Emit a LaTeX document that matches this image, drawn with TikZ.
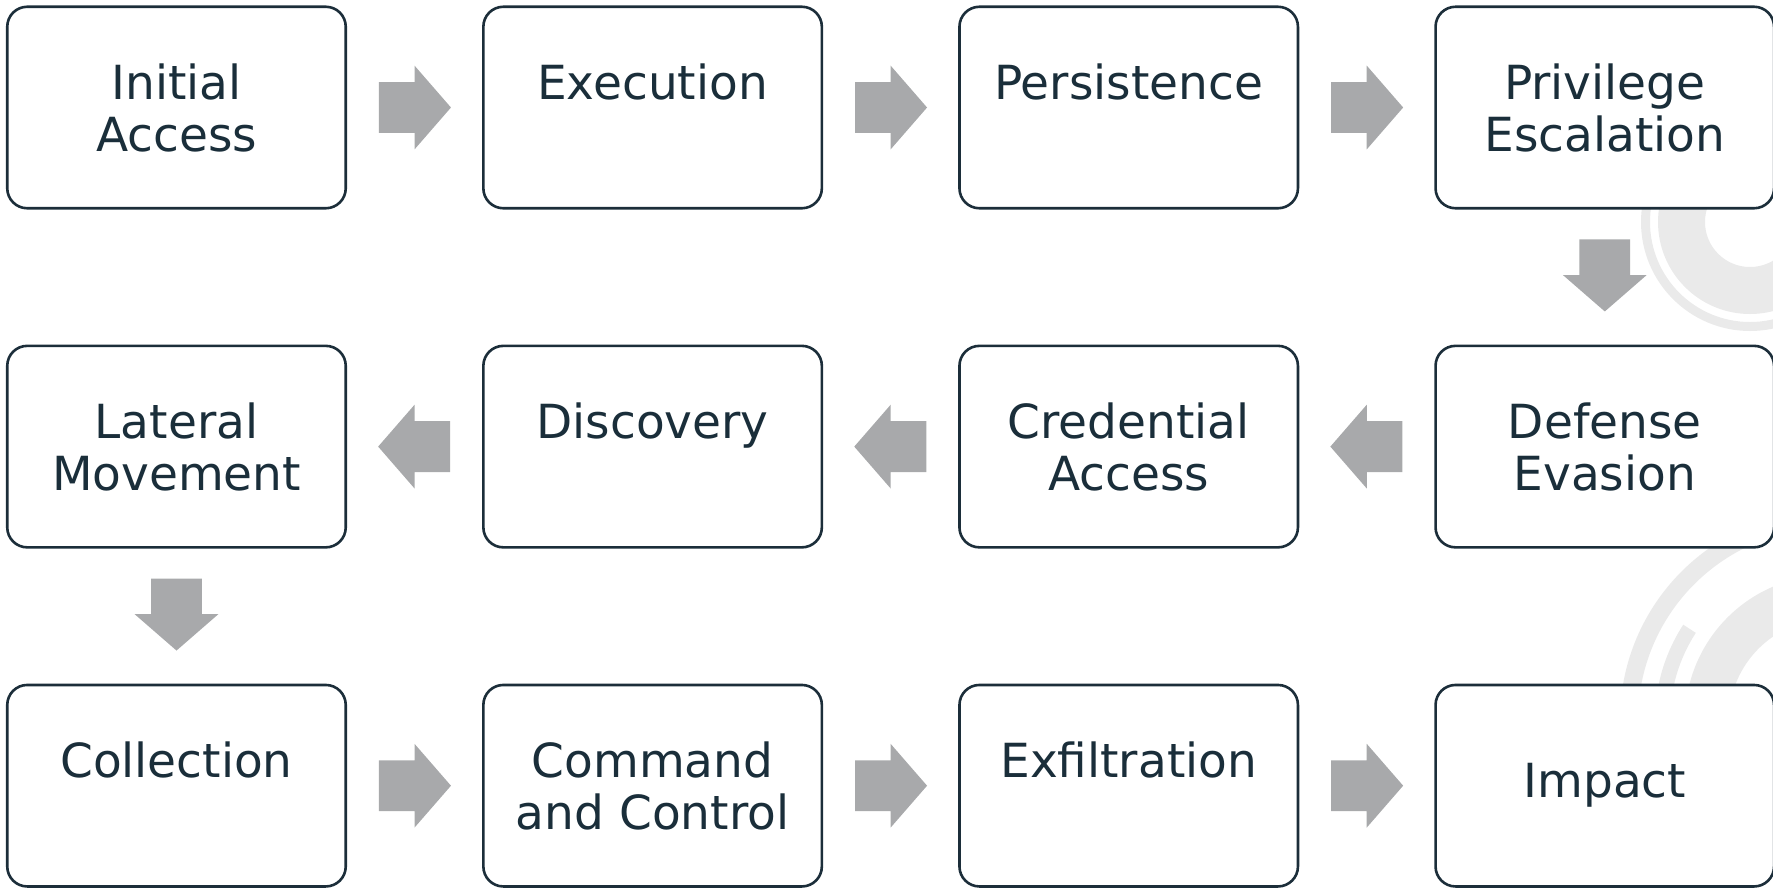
\documentclass[tikz,border=0pt]{standalone}
\usepackage{fontspec}
\setmainfont{DejaVu Sans}
\usetikzlibrary{positioning,calc,shapes.arrows}
\definecolor{boxline}{HTML}{1C2E3A}
\definecolor{boxtext}{HTML}{1A2E3A}
\definecolor{arrowgray}{HTML}{A8A9AB}
\definecolor{logogray}{HTML}{EAEAEA}

\begin{document}
\begin{tikzpicture}[x=0.5pt, y=-0.5pt, node distance=67.5pt,
	box/.style={draw=boxline, line width=1.3pt, rounded corners=10pt, fill=white,
		minimum width=169.25pt, minimum height=100.75pt, inner sep=0pt,
		align=center, text=boxtext, font=\fontsize{23.5}{26}\selectfont},
	blockarrow/.style={single arrow, draw=none, fill=arrowgray, anchor=tail,
		minimum height=36pt, single arrow head extend=8.25pt, single arrow tip angle=98},
	rarr/.style={blockarrow, inner xsep=0pt, inner ysep=12.5pt},
	larr/.style={blockarrow, inner xsep=0pt, inner ysep=12.5pt, shape border rotate=180},
	darr/.style={blockarrow, inner xsep=12.5pt, inner ysep=0pt, shape border rotate=270}]
	\useasboundingbox (0,0) rectangle (1773,890);
	% logo behind the boxes
	\begin{scope}
	\clip (0,0) rectangle (1773,890);
	\coordinate (tc) at (1750,222);
	\coordinate (lc) at (1830,720);
	\fill[logogray, even odd rule] (tc) circle (92) circle (45);
	\fill[logogray, even odd rule] (tc) circle (109) circle (100);
	\fill[logogray] ($(lc)+(180:192)$) arc[start angle=180, end angle=270, radius=192]
		-- ($(lc)+(270:210)$) arc[start angle=270, end angle=180, radius=210] -- cycle;
	\fill[logogray] ($(lc)+(180:160)$) arc[start angle=180, end angle=213, radius=160]
		-- ($(lc)+(213:175)$) arc[start angle=213, end angle=180, radius=175] -- cycle;
	\fill[logogray] ($(lc)+(180:101)$) arc[start angle=180, end angle=270, radius=101]
		-- ($(lc)+(270:145)$) arc[start angle=270, end angle=180, radius=145] -- cycle;
	\end{scope}
	% first row
	\node[box] (ia) at (176.5,107.5) {Initial\\Access};
	\node[box, right=of ia] (ex) {Execution\\\mbox{}};
	\node[box, right=of ex] (pe) {Persistence\\\mbox{}};
	\node[box, right=of pe] (pr) {Privilege\\Escalation};
	% second row
	\node[box, below=of pr] (de) {Defense\\Evasion};
	\node[box, left=of de] (ca) {Credential\\Access};
	\node[box, left=of ca] (di) {Discovery\\\mbox{}};
	\node[box, left=of di] (lm) {Lateral\\Movement};
	% third row
	\node[box, below=of lm] (co) {Collection\\\mbox{}};
	\node[box, right=of co] (cc) {Command\\and Control};
	\node[box, right=of cc] (ef) {Exfiltration\\\mbox{}};
	\node[box, right=of ef] (im) {Impact};
	% arrows, tail half a length back from the middle of the gap
	\node[rarr] (ia-ex) at ($(ia.east)!0.5!(ex.west)+(-36,0)$) {};
	\node[rarr] (ex-pe) at ($(ex.east)!0.5!(pe.west)+(-36,0)$) {};
	\node[rarr] (pe-pr) at ($(pe.east)!0.5!(pr.west)+(-36,0)$) {};
	\node[darr] (pr-de) at ($(pr.south)!0.5!(de.north)+(0,-38)$) {};
	\node[larr] (de-ca) at ($(de.west)!0.5!(ca.east)+(36,0)$) {};
	\node[larr] (ca-di) at ($(ca.west)!0.5!(di.east)+(36,0)$) {};
	\node[larr] (di-lm) at ($(di.west)!0.5!(lm.east)+(36,0)$) {};
	\node[darr] (lm-co) at ($(lm.south)!0.5!(co.north)+(0,-38)$) {};
	\node[rarr] (co-cc) at ($(co.east)!0.5!(cc.west)+(-36,0)$) {};
	\node[rarr] (cc-ef) at ($(cc.east)!0.5!(ef.west)+(-36,0)$) {};
	\node[rarr] (ef-im) at ($(ef.east)!0.5!(im.west)+(-36,0)$) {};
\end{tikzpicture}
\end{document}
